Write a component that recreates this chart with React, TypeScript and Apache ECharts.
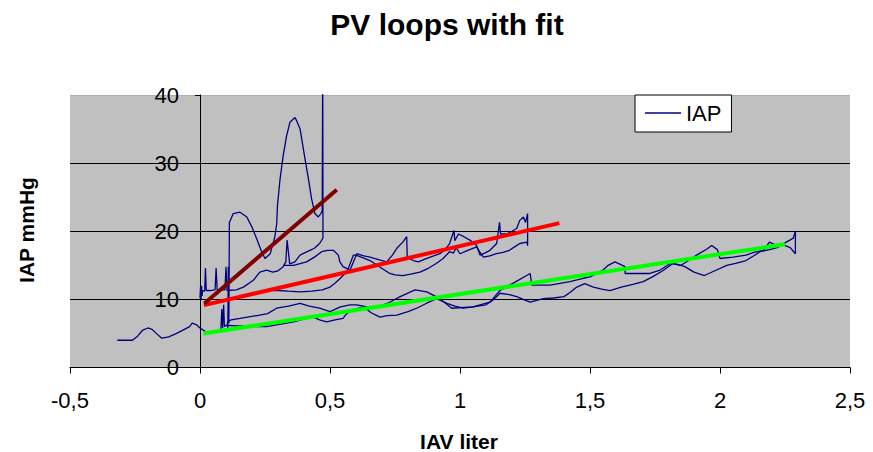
import React, { useEffect, useRef } from "react";
import * as echarts from "echarts";

// ---- Data (IAV liter, IAP mmHg) ----
const startTrace: number[][] = [
  [-0.318, 4.0], [-0.29, 4.0], [-0.26, 4.0], [-0.24, 4.6], [-0.22, 5.5], [-0.2, 5.8], [-0.185, 5.6],
  [-0.165, 4.9], [-0.147, 4.3], [-0.12, 4.5], [-0.09, 5.0], [-0.06, 5.6], [-0.04, 6.0], [-0.03, 6.5],
  [-0.015, 6.3], [0.0, 5.8], [0.02, 5.3], [0.04, 5.1], [0.064, 5.2], [0.08, 5.4],
];

const lowerOut: number[][] = [
  [0.08, 5.4], [0.084, 8.6], [0.087, 5.8], [0.091, 9.2], [0.094, 6.0], [0.1, 6.2], [0.14, 6.1], [0.18, 6.1],
  [0.22, 6.0], [0.256, 6.0], [0.3, 6.3], [0.36, 6.7], [0.4, 7.1], [0.436, 7.4], [0.46, 7.0], [0.487, 6.7],
  [0.52, 7.0], [0.55, 7.2], [0.564, 7.9], [0.6, 8.6], [0.628, 8.9], [0.66, 8.0], [0.692, 7.4], [0.72, 7.6],
  [0.757, 7.7], [0.8, 8.2], [0.833, 8.7], [0.87, 9.4], [0.91, 10.1], [0.95, 9.4], [0.98, 9.0], [1.013, 8.7],
  [1.05, 8.9], [1.1, 9.2], [1.13, 10.0], [1.154, 10.9], [1.19, 10.7], [1.218, 10.4], [1.25, 9.9], [1.27, 9.6],
  [1.32, 10.1], [1.36, 10.2], [1.4, 10.4], [1.423, 11.0], [1.449, 11.8], [1.48, 12.3], [1.513, 11.8],
  [1.545, 11.5], [1.577, 11.3], [1.62, 11.8], [1.665, 12.2], [1.705, 12.6], [1.74, 13.3], [1.78, 14.2],
  [1.82, 15.3], [1.85, 15.0], [1.865, 14.8], [1.9, 14.0], [1.94, 13.5], [1.98, 14.2], [2.026, 15.0],
  [2.06, 15.3], [2.1, 15.7], [2.13, 16.4], [2.154, 17.0], [2.19, 17.3], [2.22, 17.6], [2.25, 18.3],
  [2.282, 19.0], [2.29, 20.0],
];

const lowerBack: number[][] = [
  [2.29, 20.0], [2.29, 16.7], [2.27, 17.6], [2.244, 18.0], [2.218, 17.9], [2.19, 18.4], [2.167, 17.2],
  [2.13, 16.9], [2.1, 16.5], [2.05, 16.2], [2.0, 16.0], [1.99, 17.3], [1.968, 17.9], [1.95, 17.4],
  [1.91, 16.5], [1.88, 15.7], [1.85, 15.0], [1.81, 15.3], [1.77, 14.3], [1.73, 13.8], [1.68, 13.8],
  [1.635, 13.8], [1.635, 14.8], [1.596, 15.5], [1.57, 15.0], [1.55, 14.3], [1.5, 13.3], [1.474, 13.1],
  [1.423, 12.6], [1.346, 12.1], [1.276, 12.1], [1.27, 13.8], [1.21, 12.5], [1.154, 11.3], [1.115, 9.6],
  [1.05, 8.9], [0.968, 8.7], [0.923, 10.1], [0.872, 11.1], [0.827, 11.4], [0.77, 10.4], [0.72, 9.4],
  [0.667, 8.7], [0.603, 9.2], [0.577, 9.2], [0.54, 8.9], [0.5, 8.2], [0.46, 8.7], [0.42, 9.0],
  [0.385, 9.4], [0.34, 9.0], [0.295, 8.7], [0.26, 7.9], [0.23, 7.7], [0.154, 7.2], [0.12, 7.0], [0.105, 6.6],
];

const spikeTrace: number[][] = [
  [0.105, 6.6], [0.107, 5.8], [0.109, 14.8], [0.111, 6.5], [0.113, 21.3], [0.128, 22.6], [0.154, 22.8],
  [0.18, 22.1], [0.2, 20.6], [0.218, 18.9], [0.237, 17.0], [0.25, 16.0], [0.27, 16.7], [0.288, 19.2],
  [0.295, 21.1], [0.298, 23.8], [0.308, 27.7], [0.32, 31.1], [0.333, 34.0], [0.346, 36.0], [0.365, 36.7],
  [0.372, 36.2], [0.385, 35.0], [0.404, 30.6], [0.417, 27.7], [0.429, 24.8], [0.442, 22.6], [0.455, 22.1],
  [0.465, 22.6], [0.47, 23.0], [0.472, 45.0], [0.473, 19.0],
];

const midReturnLeft: number[][] = [
  [0.473, 19.0], [0.46, 18.2], [0.44, 17.5], [0.423, 17.2], [0.4, 16.8], [0.385, 16.5], [0.365, 15.5],
  [0.345, 15.2], [0.335, 18.7], [0.33, 15.5], [0.32, 14.8], [0.3, 14.2], [0.28, 14.0], [0.256, 14.3],
  [0.23, 14.0], [0.205, 12.8], [0.167, 11.8], [0.14, 11.4], [0.104, 11.3], [0.1, 14.8], [0.096, 11.4],
  [0.066, 11.4], [0.062, 14.6], [0.058, 11.4], [0.04, 11.3], [0.024, 11.3], [0.021, 14.6], [0.018, 11.2],
  [0.01, 11.3], [0.008, 10.5], [0.006, 12.0], [0.004, 10.0], [0.002, 11.8], [0.0, 10.2],
];

const midUpper: number[][] = [
  [0.32, 15.0], [0.36, 15.0], [0.41, 15.5], [0.44, 16.2], [0.468, 17.0], [0.49, 17.2], [0.513, 17.2],
  [0.532, 16.5], [0.538, 15.5], [0.55, 14.8], [0.577, 14.3], [0.59, 15.5], [0.603, 16.7], [0.63, 16.4],
  [0.654, 16.2], [0.69, 15.8], [0.718, 15.5], [0.74, 16.5], [0.757, 17.5], [0.78, 18.4], [0.795, 19.2],
  [0.797, 16.2], [0.82, 15.7], [0.84, 15.5], [0.865, 15.9], [0.885, 16.2], [0.923, 16.7], [0.945, 17.4],
  [0.96, 18.2], [0.977, 20.1], [0.98, 18.6], [0.994, 19.6], [1.015, 19.2], [1.038, 18.7], [1.064, 17.9],
  [1.077, 16.5], [1.095, 16.8], [1.115, 17.2], [1.141, 18.2], [1.152, 21.3], [1.156, 19.6], [1.18, 19.6],
  [1.2, 20.0], [1.218, 20.4], [1.23, 21.6], [1.244, 22.1], [1.252, 21.3], [1.26, 22.6], [1.26, 17.9],
];

const midLower: number[][] = [
  [1.26, 17.9], [1.257, 18.4], [1.23, 18.2], [1.21, 17.7], [1.19, 17.2], [1.165, 16.9], [1.14, 16.7],
  [1.115, 16.4], [1.09, 16.2], [1.075, 17.0], [1.064, 17.7], [1.03, 17.2], [1.0, 16.7], [0.985, 17.6],
  [0.975, 16.8], [0.96, 17.0], [0.935, 16.0], [0.91, 15.3], [0.88, 14.6], [0.846, 14.0], [0.81, 13.7],
  [0.78, 13.5], [0.75, 13.6], [0.73, 13.8], [0.69, 14.8], [0.654, 15.7], [0.62, 16.2], [0.6, 16.5],
  [0.59, 16.5], [0.58, 15.5], [0.565, 14.0], [0.55, 13.5], [0.54, 13.1], [0.52, 12.4], [0.5, 11.8],
  [0.47, 11.4], [0.43, 11.2], [0.385, 11.1], [0.34, 11.2], [0.3, 11.3], [0.28, 11.3],
];

const fitLow: number[][] = [[0.013, 5.0], [2.25, 18.1]];
const fitMid: number[][] = [[0.015, 9.15], [1.382, 21.2]];
const fitHigh: number[][] = [[0.017, 9.4], [0.526, 26.1]];

const xTicks = { min: -0.5, max: 2.5, interval: 0.5 };
const yTicks = { min: 0, max: 40, interval: 10 };

const FONT = "'Liberation Sans', Arial, sans-serif";

export default function App() {
  const ref = useRef<HTMLDivElement>(null);
  useEffect(() => {
    if (!ref.current) return;
    const chart = echarts.init(ref.current, undefined, { renderer: "svg" });
    const traces = [startTrace, lowerOut, lowerBack, spikeTrace, midReturnLeft, midUpper, midLower];
    const traceSeries = traces.map((d) => ({
      name: "IAP",
      type: "line",
      data: d,
      showSymbol: false,
      symbol: "none",
      silent: true,
      clip: true,
      lineStyle: { color: "#000080", width: 1.3 },
      itemStyle: { color: "#000080" },
    }));
    const fitSeries = [
      { name: "fitLow", data: fitLow, color: "#00ff00" },
      { name: "fitMid", data: fitMid, color: "#ff0000" },
      { name: "fitHigh", data: fitHigh, color: "#800000" },
    ].map((f) => ({
      name: f.name,
      type: "line",
      data: f.data,
      showSymbol: false,
      symbol: "none",
      silent: true,
      lineStyle: { color: f.color, width: 4 },
      itemStyle: { color: f.color },
      z: 3,
    }));
    // y axis sits at x = 0: shift it right from the grid's left edge
    const plotLeft = 70;
    const plotWidth = 873 - 70 - 23;
    const yAxisShift = ((0 - xTicks.min) / (xTicks.max - xTicks.min)) * plotWidth;
    chart.setOption({
      animation: false,
      backgroundColor: "#ffffff",
      textStyle: { fontFamily: FONT },
      grid: {
        left: plotLeft,
        right: 23,
        top: 95,
        bottom: 84.5,
        show: true,
        backgroundColor: "#c0c0c0",
        borderWidth: 0,
      },
      legend: {
        data: [{ name: "IAP", icon: "rect" }],
        left: 635,
        top: 95,
        itemWidth: 36,
        itemHeight: 1.5,
        padding: [7, 10, 8, 10],
        backgroundColor: "#ffffff",
        borderColor: "#000000",
        borderWidth: 1,
        borderRadius: 0,
        selectedMode: false,
        textStyle: { fontSize: 22, color: "#000000", fontFamily: FONT },
      },
      xAxis: {
        type: "value",
        min: xTicks.min,
        max: xTicks.max,
        interval: xTicks.interval,
        axisLine: { show: true, onZero: false, lineStyle: { color: "#000000", width: 1 } },
        axisTick: { show: true, length: 6, lineStyle: { color: "#000000" } },
        axisLabel: {
          fontSize: 22,
          color: "#000000",
          margin: 22,
          fontFamily: FONT,
          formatter: (v: number) => String(v).replace(".", ","),
        },
        splitLine: { show: false },
      },
      yAxis: {
        type: "value",
        min: yTicks.min,
        max: yTicks.max,
        interval: yTicks.interval,
        offset: -yAxisShift,
        axisLine: { show: true, onZero: false, lineStyle: { color: "#000000", width: 1 } },
        axisTick: { show: true, length: 5, lineStyle: { color: "#000000" } },
        axisLabel: { fontSize: 22, color: "#000000", margin: 21, fontFamily: FONT },
        splitLine: {
          show: true,
          lineStyle: { color: ["#000000", "#000000", "#000000", "#000000", "#b0b0b0"], width: 1 },
        },
      },
      graphic: [
        {
          type: "text",
          x: 447,
          y: 24,
          style: {
            text: "PV loops with fit",
            font: `bold 30px ${FONT}`,
            fill: "#000000",
            align: "center",
            verticalAlign: "middle",
          },
        },
        {
          type: "text",
          x: 459,
          y: 441,
          style: {
            text: "IAV liter",
            font: `bold 21px ${FONT}`,
            fill: "#000000",
            align: "center",
            verticalAlign: "middle",
          },
        },
        {
          type: "text",
          x: 26,
          y: 230,
          rotation: Math.PI / 2,
          style: {
            text: "IAP mmHg",
            font: `bold 21px ${FONT}`,
            fill: "#000000",
            align: "center",
            verticalAlign: "middle",
          },
        },
      ],
      series: [...traceSeries, ...fitSeries],
    });
    return () => chart.dispose();
  }, []);
  return (
    <div
      ref={ref}
      style={{ position: "fixed", left: 0, top: 0, width: 873, height: 452 }}
    />
  );
}
